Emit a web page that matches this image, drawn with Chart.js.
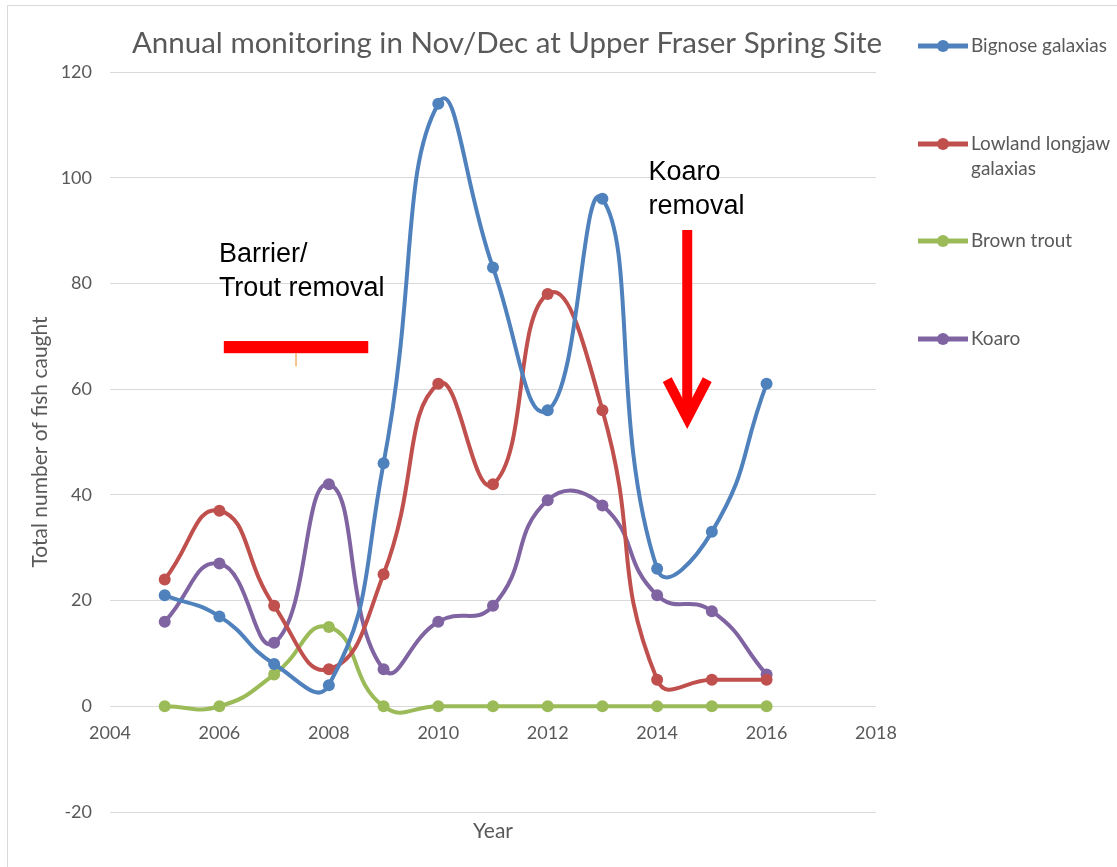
<!DOCTYPE html>
<html>
<head>
<meta charset="utf-8">
<script src="https://cdn.jsdelivr.net/npm/chart.js@4"></script>
<style>
	html, body { margin: 0; padding: 0; background: #fff; }
	#wrap { width: 1117px; height: 867px; }
</style>
</head>
<body>
<div id="wrap"><canvas id="chart" width="1117" height="867"></canvas></div>
<script>
const years = [2005, 2006, 2007, 2008, 2009, 2010, 2011, 2012, 2013, 2014, 2015, 2016];
const bignose = [21, 17, 8, 4, 46, 114, 83, 56, 96, 26, 33, 61];
const lowland = [24, 37, 19, 7, 25, 61, 42, 78, 56, 5, 5, 5];
const brownTrout = [0, 0, 6, 15, 0, 0, 0, 0, 0, 0, 0, 0];
const koaro = [16, 27, 12, 42, 7, 16, 19, 39, 38, 21, 18, 6];

const seriesNames = ['Bignose galaxias', 'Lowland longjaw galaxias', 'Brown trout', 'Koaro'];
const legendLines = [['Bignose galaxias'], ['Lowland longjaw', 'galaxias'], ['Brown trout'], ['Koaro']];
const colors = ['#4F81BD', '#C0504D', '#9BBB59', '#8064A2'];

const xTicks = { min: 2004, max: 2018, step: 2 };
const yTicks = { min: -20, max: 120, step: 20 };

const textGrey = '#595959';
const gridGrey = '#d9d9d9';

function makeSet(name, values, color) {
	return {
		label: name,
		data: years.map((yr, i) => ({ x: yr, y: values[i] })),
		borderColor: color,
		backgroundColor: color,
		borderWidth: 4,
		pointRadius: 6,
		pointHoverRadius: 6,
		pointBorderWidth: 0,
		showLine: true,
		tension: 0.5,
		fill: false
	};
}

// title, legend, axis label and the hand drawn notes
const decorPlugin = {
	id: 'decor',
	beforeDraw(chart) {
		const ctx = chart.ctx;
		ctx.save();
		ctx.strokeStyle = gridGrey;
		ctx.lineWidth = 1;
		ctx.strokeRect(7.5, 5.5, 1200, 900);
		ctx.restore();
	},
	afterDatasetsDraw(chart) {
		const ctx = chart.ctx;
		const xs = chart.scales.x;
		const ys = chart.scales.y;
		const px = v => xs.getPixelForValue(v);
		const py = v => ys.getPixelForValue(v);

		ctx.save();
		// title
		ctx.fillStyle = textGrey;
		ctx.font = '29.5px Lato';
		ctx.textAlign = 'center';
		ctx.textBaseline = 'middle';
		ctx.fillText('Annual monitoring in Nov/Dec at Upper Fraser Spring Site', 507, 43);

		// x axis title
		ctx.font = '21px Lato';
		ctx.fillText('Year', 493, 831);

		// legend
		ctx.textAlign = 'left';
		const legendY = [46, 144, 241, 339];
		chart.data.datasets.forEach((ds, i) => {
			const y = legendY[i];
			ctx.strokeStyle = ds.borderColor;
			ctx.lineWidth = 5;
			ctx.beginPath();
			ctx.moveTo(918, y);
			ctx.lineTo(968, y);
			ctx.stroke();
			ctx.fillStyle = ds.borderColor;
			ctx.beginPath();
			ctx.arc(943, y, 6, 0, Math.PI * 2);
			ctx.fill();
			ctx.fillStyle = textGrey;
			ctx.font = '19px Lato';
			legendLines[i].forEach((t, j) => ctx.fillText(t, 971, y + j * 25));
		});

		// Barrier / trout removal note
		ctx.fillStyle = '#000';
		ctx.font = '27px "Liberation Sans"';
		ctx.fillText('Barrier/', px(2005.99), py(85.5));
		ctx.fillText('Trout removal', px(2005.99), py(79.0));
		ctx.fillStyle = '#ff0000';
		ctx.fillRect(px(2006.08), py(69.1), px(2008.72) - px(2006.08), py(66.8) - py(69.1));
		ctx.strokeStyle = '#f08a24';
		ctx.lineWidth = 1;
		ctx.beginPath();
		ctx.moveTo(px(2007.4), py(66.8));
		ctx.lineTo(px(2007.4), py(64.3));
		ctx.stroke();

		// Koaro removal note
		ctx.fillStyle = '#000';
		ctx.fillText('Koaro', px(2013.84), py(101.0));
		ctx.fillText('removal', px(2013.84), py(94.6));
		const ax = px(2014.55);
		ctx.strokeStyle = '#ff0000';
		ctx.lineWidth = 10;
		ctx.beginPath();
		ctx.moveTo(ax, py(90.1));
		ctx.lineTo(ax, py(54.5));
		ctx.stroke();
		ctx.lineJoin = 'miter';
		ctx.beginPath();
		ctx.moveTo(ax - 20, py(61.8));
		ctx.lineTo(ax, py(54.5));
		ctx.lineTo(ax + 20, py(61.8));
		ctx.stroke();
		ctx.restore();
	}
};

const config = {
	type: 'scatter',
	data: {
		datasets: [
			makeSet(seriesNames[0], bignose, colors[0]),
			makeSet(seriesNames[1], lowland, colors[1]),
			makeSet(seriesNames[2], brownTrout, colors[2]),
			makeSet(seriesNames[3], koaro, colors[3])
		]
	},
	options: {
		responsive: false,
		animation: false,
		layout: { padding: { top: 72, bottom: 55, left: 0, right: 241 } },
		plugins: {
			legend: { display: false },
			title: { display: false },
			tooltip: { enabled: false }
		},
		scales: {
			x: {
				type: 'linear',
				position: { y: 0 },
				min: xTicks.min,
				max: xTicks.max,
				grid: { display: false, drawTicks: false },
				border: { display: false },
				ticks: {
					stepSize: xTicks.step,
					color: textGrey,
					font: { family: 'Lato', size: 18 },
					padding: 16,
					callback: v => String(v)
				}
			},
			y: {
				min: yTicks.min,
				max: yTicks.max,
				grid: { color: gridGrey, drawTicks: false, lineWidth: 1 },
				border: { display: false },
				ticks: {
					stepSize: yTicks.step,
					color: textGrey,
					font: { family: 'Lato', size: 18 },
					padding: 18
				},
				title: {
					display: true,
					text: 'Total number of fish caught',
					color: textGrey,
					font: { family: 'Lato', size: 21 },
					padding: { top: 28, bottom: 0 }
				},
				afterFit(scale) { scale.width = 110; }
			}
		}
	},
	plugins: [decorPlugin]
};

const chart = new Chart(document.getElementById('chart'), config);
</script>
</body>
</html>
